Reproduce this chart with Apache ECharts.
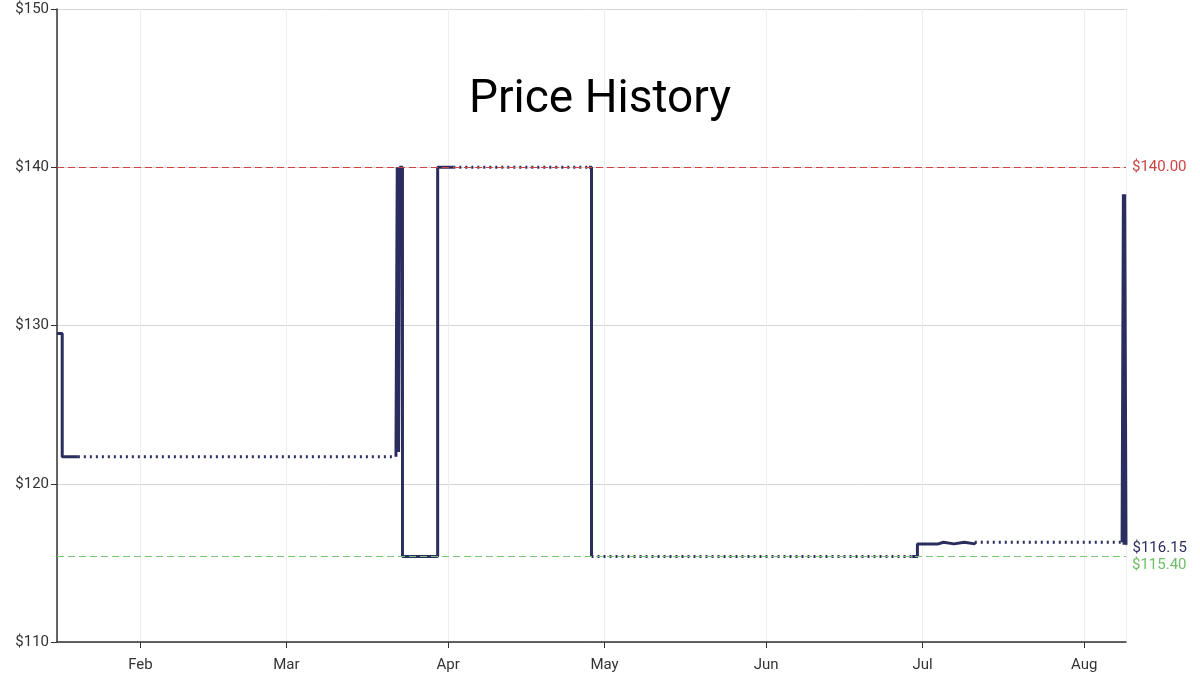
<!DOCTYPE html>
<html><head><meta charset="utf-8">
<script src="https://cdn.jsdelivr.net/npm/echarts@6/dist/echarts.min.js"></script>
<style>html,body{margin:0;background:#fff}#c{width:1200px;height:681px}</style>
</head><body><div id="c"></div>
<script>
// price segments: [date, price]
const solidSegments = [
  [['2023-01-16', 129.5], ['2023-01-17', 121.7], ['2023-01-20', 121.7]],
  [['2023-03-22', 121.7], ['2023-03-22 06:00', 140], ['2023-03-22 12:00', 122], ['2023-03-22 18:00', 140],
   ['2023-03-23 06:00', 115.4], ['2023-03-30', 140], ['2023-04-02', 140]],
  [['2023-04-28', 140], ['2023-04-28 12:00', 115.4]],
  [['2023-06-29', 115.4], ['2023-06-30', 116.2], ['2023-07-04', 116.3], ['2023-07-05', 116.2],
   ['2023-07-07', 116.3], ['2023-07-09', 116.2], ['2023-07-11', 116.3]],
  [['2023-08-08 06:00', 116.3], ['2023-08-08 12:00', 138.3], ['2023-08-08 15:00', 116.15],
   ['2023-08-08 18:00', 138.3], ['2023-08-09', 116.15]]
];
const dottedSegments = [
  [['2023-01-20', 121.7], ['2023-03-22', 121.7]],
  [['2023-04-02', 140], ['2023-04-28', 140]],
  [['2023-04-28 12:00', 115.4], ['2023-06-29', 115.4]],
  [['2023-07-11', 116.3], ['2023-08-08 06:00', 116.3]]
];
const highPrice = 140.00;
const lowPrice = 115.40;
const lastPrice = 116.15;
const monthNames = ['Jan','Feb','Mar','Apr','May','Jun','Jul','Aug','Sep','Oct','Nov','Dec'];

const navy = '#2b2d5f';
const red = '#cc4444';
const green = '#6cbf66';
const series = [];
series.push({
  type: 'line', data: [], silent: true,
  markLine: {
    symbol: 'none', silent: true,
    data: [
      { yAxis: highPrice, lineStyle: { color: red, type: [7, 4], width: 1.2 },
        label: { formatter: '$' + highPrice.toFixed(2), color: red, fontSize: 15, distance: 6 } },
      { yAxis: lowPrice, lineStyle: { color: '#7cc576', type: [7, 4], width: 1.2 },
        label: { formatter: '$' + lowPrice.toFixed(2), color: green, fontSize: 15, distance: 6, offset: [0, 9] } }
    ]
  }
});
solidSegments.forEach(function(seg) {
  series.push({ type: 'line', step: 'end', data: seg, symbol: 'none', silent: true,
    lineStyle: { color: navy, width: 3 } });
});
dottedSegments.forEach(function(seg) {
  series.push({ type: 'line', data: seg, symbol: 'none', silent: true,
    lineStyle: { color: navy, width: 3, type: [2, 4] } });
});
const lastSeg = solidSegments[solidSegments.length - 1];
series[series.length - dottedSegments.length - 1].markPoint = {
  symbol: 'circle', symbolSize: 1, silent: true, itemStyle: { color: navy },
  data: [{ coord: lastSeg[lastSeg.length - 1],
    label: { show: true, position: 'right', distance: 6, offset: [0, 4],
      formatter: '$' + lastPrice.toFixed(2), color: navy, fontSize: 15 } }]
};

const chart = echarts.init(document.getElementById('c'));
chart.setOption({
  animation: false,
  textStyle: { fontFamily: 'Roboto' },
  title: { text: 'Price History', left: 'center', top: 72,
    textStyle: { fontSize: 46, fontWeight: 'normal', color: '#000', fontFamily: 'Roboto' } },
  grid: { left: 57, right: 74, top: 9, bottom: 39 },
  xAxis: {
    type: 'time', min: '2023-01-16', max: '2023-08-09',
    minInterval: 28 * 86400000, maxInterval: 31 * 86400000,
    axisLine: { lineStyle: { color: '#333', width: 1.5 } },
    axisTick: { lineStyle: { color: '#333' }, length: 6 },
    axisLabel: { color: '#333', fontSize: 15, margin: 16,
      formatter: function(v) { return monthNames[new Date(v).getMonth()]; } },
    splitLine: { show: true, lineStyle: { color: '#eeeeee' } }
  },
  yAxis: {
    type: 'value', min: 110, max: 150, interval: 10,
    axisLine: { show: true, lineStyle: { color: '#333', width: 1.5 } },
    axisTick: { show: true, lineStyle: { color: '#333' }, length: 6 },
    axisLabel: { color: '#333', fontSize: 15, formatter: '${value}' },
    splitLine: { lineStyle: { color: '#d6d6d6' } }
  },
  series: series
});
</script></body></html>
